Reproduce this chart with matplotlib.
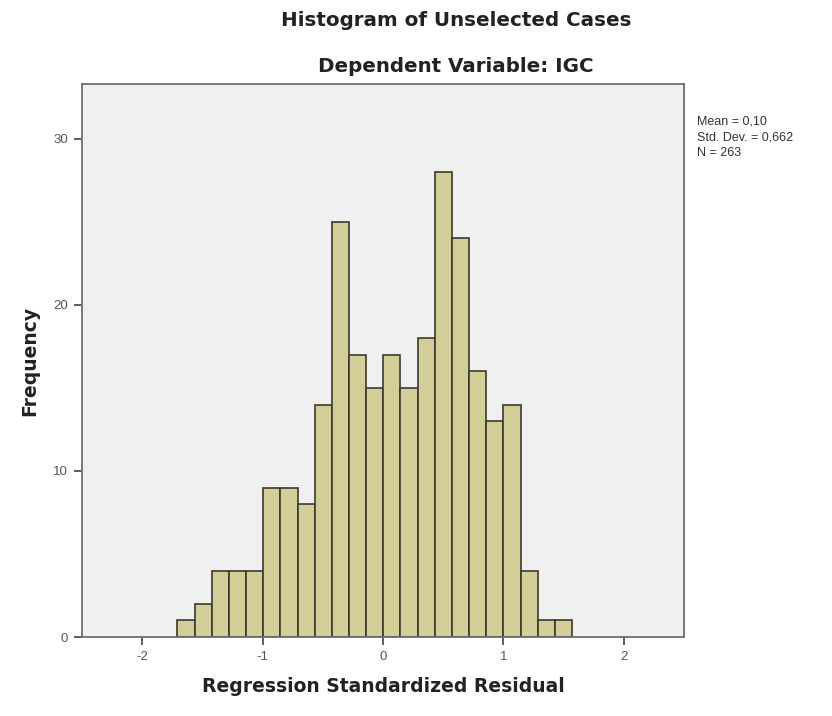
import matplotlib
matplotlib.use("Agg")
import matplotlib.pyplot as plt
import numpy as np

# histogram of standardized residuals (unselected cases)
counts = [1, 2, 4, 4, 4, 9, 9, 8, 14, 25, 17, 15, 17, 15, 18, 28, 24, 16, 13, 14, 4, 1, 1]
first_edge = -1.708
bin_width = 0.1425
x_ticks = [-2, -1, 0, 1, 2]
y_ticks = [0, 10, 20, 30]
stats_lines = ["Mean = 0,10", "Std. Dev. = 0,662", "N = 263"]

plt.rcParams["font.family"] = ["Liberation Sans", "DejaVu Sans"]

FILL = "#d3ce97"
EDGE = "#3b3a2c"
GRAY = "#555555"
BOLD = dict(family="DejaVu Sans", fontweight="bold", color="#222222", fontsize=13.5)

fig = plt.figure(figsize=(8.32, 7.16), dpi=100)
ax = fig.add_axes([0.0986, 0.1103, 0.7236, 0.7723])
ax.set_facecolor("#f0f0f0")

lefts = first_edge + bin_width * np.arange(len(counts))
ax.bar(lefts, counts, width=bin_width, align="edge", color=FILL, edgecolor=EDGE, linewidth=1.2)

ax.set_xlim(-2.5, 2.5)
ax.set_ylim(0, 33.3)
ax.set_xticks(x_ticks)
ax.set_yticks(y_ticks)
ax.set_xticklabels([str(t) for t in x_ticks])
ax.tick_params(direction="out", length=6, width=1.2, color="#444444", labelsize=9.5, labelcolor=GRAY, pad=4)
for s in ax.spines.values():
    s.set_color("#6e6e6e"); s.set_linewidth(1.3)

ax.set_xlabel("Regression Standardized Residual", labelpad=10, **BOLD)
ax.set_ylabel("Frequency", labelpad=10, **BOLD)

title_kw = dict(BOLD, fontsize=14.3)
fig.text(456/832, 1 - 21/716, "Histogram of Unselected Cases", ha="center", va="center", **title_kw)
fig.text(456/832, 1 - 66/716, "Dependent Variable: IGC", ha="center", va="center", **title_kw)
fig.text(697/832, 1 - 115/716, "\n".join(stats_lines), ha="left", va="top", fontsize=9, color="#333333", linespacing=1.45)

fig.savefig("out.png", dpi=100)
